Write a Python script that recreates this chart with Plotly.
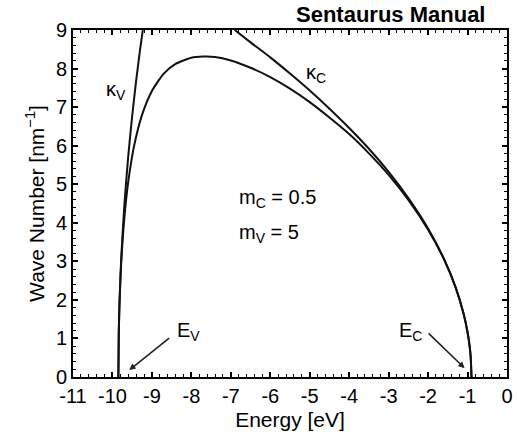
import plotly.graph_objects as go

# Complex band structure: imaginary wave number inside the gap
energy_dome = [-9.85, -9.84, -9.82, -9.78, -9.70, -9.60, -9.45, -9.25, -9.00, -8.70,
               -8.40, -8.00, -7.70, -7.40, -7.00, -6.50, -6.00, -5.50, -5.00, -4.50,
               -4.00, -3.50, -3.00, -2.50, -2.00, -1.60, -1.30, -1.10, -1.00, -0.95,
               -0.92, -0.90]
k_dome = [0.00, 1.14, 1.95, 2.92, 4.11, 5.06, 6.00, 6.80, 7.42, 7.87,
          8.12, 8.28, 8.31, 8.30, 8.21, 8.02, 7.78, 7.48, 7.13, 6.73,
          6.30, 5.80, 5.24, 4.59, 3.82, 3.06, 2.32, 1.64, 1.16, 0.82,
          0.52, 0.00]

# Valence-band branch kappa_v
energy_kv = [-9.85, -9.84, -9.82, -9.78, -9.70, -9.60, -9.50, -9.40, -9.30, -9.23]
k_kv = [0.00, 1.15, 1.98, 3.03, 4.43, 5.73, 6.77, 7.68, 8.49, 9.00]

# Conduction-band branch kappa_c
energy_kc = [-0.90, -0.92, -0.95, -1.00, -1.10, -1.30, -1.60, -2.00, -2.50, -3.00,
             -3.50, -4.00, -4.50, -5.00, -5.50, -6.00, -6.50, -6.90]
k_kc = [0.00, 0.52, 0.82, 1.16, 1.64, 2.32, 3.07, 3.85, 4.64, 5.32,
        5.92, 6.46, 6.96, 7.43, 7.87, 8.29, 8.68, 9.00]

x_tick_vals = [-11, -10, -9, -8, -7, -6, -5, -4, -3, -2, -1, 0]
x_tick_text = ["-11", "-10", "-9", "-8", "-7", "-6", "-5", "-4", "-3", "-2", "-1", "0"]
y_tick_vals = [0, 1, 2, 3, 4, 5, 6, 7, 8, 9]
y_tick_text = ["0", "1", "2", "3", "4", "5", "6", "7", "8", "9"]

FONT = "Arial, Liberation Sans, Helvetica, sans-serif"
INK = "#111111"

fig = go.Figure()
for xs, ys in [(energy_dome, k_dome), (energy_kv, k_kv), (energy_kc, k_kc)]:
    fig.add_trace(go.Scatter(x=xs, y=ys, mode="lines",
                             line=dict(color=INK, width=2, shape="spline", smoothing=0.6),
                             showlegend=False, hoverinfo="skip"))

axis_common = dict(
    showline=True, linewidth=2, linecolor="black", mirror="ticks",
    ticks="inside", ticklen=5, tickwidth=1.5, tickcolor="black",
    showgrid=False, zeroline=False,
    tickfont=dict(family=FONT, size=20, color="black"),
    minor=dict(dtick=0.2, ticks="inside", ticklen=3, tickwidth=1.2, tickcolor="black"),
)

fig.update_xaxes(range=[-11, 0], tickmode="array", tickvals=x_tick_vals, ticktext=x_tick_text,
                 title=dict(text="Energy [eV]", font=dict(family=FONT, size=21, color="black"), standoff=6),
                 **axis_common)
fig.update_yaxes(range=[0, 9], tickmode="array", tickvals=y_tick_vals, ticktext=y_tick_text,
                 title=dict(text="Wave Number [nm<sup>−1</sup>]", font=dict(family=FONT, size=21, color="black"), standoff=6),
                 **axis_common)

label_font = dict(family=FONT, size=20, color="black")
labels = [
    ("κ<sub>V</sub>", -9.9, 7.44, "center"),
    ("κ<sub>C</sub>", -4.83, 7.88, "center"),
    ("E<sub>V</sub>", -8.08, 1.17, "center"),
    ("E<sub>C</sub>", -2.45, 1.17, "center"),
    ("m<sub>C</sub> = 0.5", -6.85, 4.64, "left"),
    ("m<sub>V</sub> = 5", -6.85, 3.73, "left"),
]
for text, x, y, anchor in labels:
    fig.add_annotation(x=x, y=y, text=text, showarrow=False, xanchor=anchor, yanchor="middle",
                       font=label_font)

# Arrows pointing at the band edges
for (x0, y0, x1, y1) in [(-8.525, 1.04, -9.575, 0.18), (-2.025, 1.17, -1.075, 0.23)]:
    fig.add_annotation(x=x1, y=y1, ax=x0, ay=y0, axref="x", ayref="y", text="",
                       showarrow=True, arrowhead=2, arrowsize=0.8, arrowwidth=1.6,
                       arrowcolor="#222222", standoff=0)

fig.add_annotation(text="<b>Sentaurus Manual</b>", xref="paper", yref="paper",
                   x=0.955, y=1.0, yshift=16, xanchor="right", yanchor="middle", showarrow=False,
                   font=dict(family=FONT, size=22, color="black"))

fig.update_layout(width=517, height=446, margin=dict(l=73, r=4, t=30, b=69),
                  paper_bgcolor="white", plot_bgcolor="white")

fig.write_html("out.html")
